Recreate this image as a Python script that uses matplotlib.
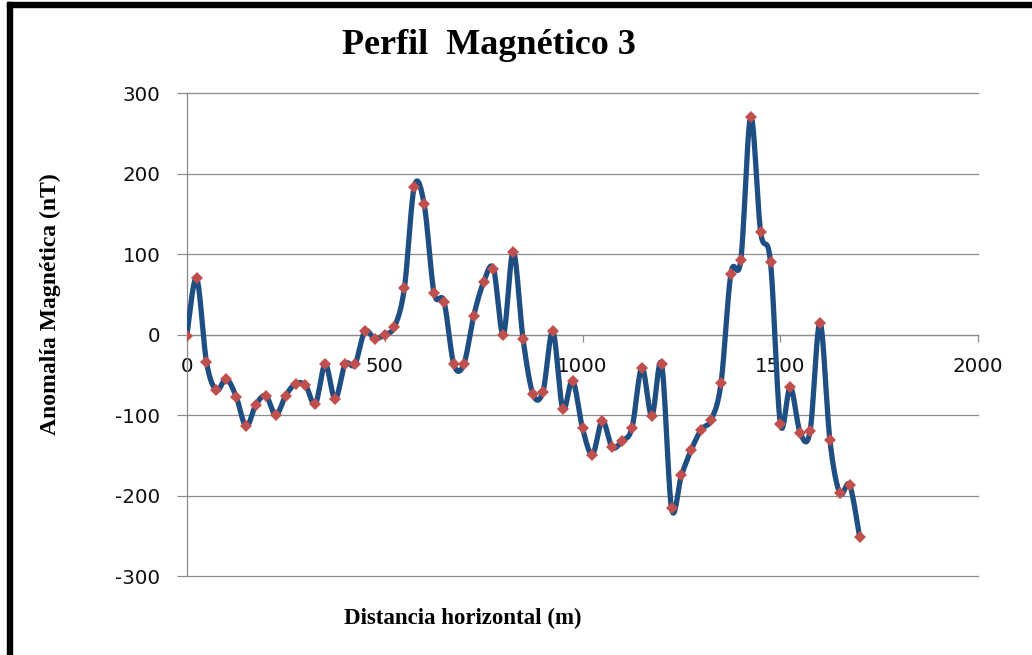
import numpy as np
import matplotlib
matplotlib.use("Agg")
import matplotlib.pyplot as plt
from matplotlib.patches import Rectangle

# Survey stations along the profile (m) and measured anomaly (nT)
distance_m = list(range(0, 1701, 25))
anomaly_nT = [
    -2, 70, -34, -69, -55, -77, -114, -87, -76, -100,
    -76, -61, -63, -86, -37, -80, -37, -37, 4, -5,
    0, 10, 58, 184, 162, 52, 41, -37, -37, 23,
    65, 82, 0, 103, -6, -74, -71, 4, -92, -57,
    -116, -149, -107, -140, -132, -116, -41, -101, -37, -216,
    -175, -143, -118, -106, -60, 76, 93, 271, 128, 90,
    -111, -65, -122, -120, 15, -131, -197, -187, -251,
]
x_ticks = [0, 500, 1000, 1500, 2000]
y_ticks = [-300, -200, -100, 0, 100, 200, 300]

title_text = "Perfil  Magnético 3"
x_label = "Distancia horizontal (m)"
y_label = "Anomalía Magnética (nT)"


def smooth_curve(x, y, steps=24):
    """Catmull-Rom style Bezier smoothing through every point."""
    x = np.asarray(x, float)
    y = np.asarray(y, float)
    n = len(x)
    xs, ys = [x[0]], [y[0]]
    t = np.linspace(0, 1, steps + 1)[1:]
    for i in range(n - 1):
        p0 = np.array([x[max(i - 1, 0)], y[max(i - 1, 0)]])
        p1 = np.array([x[i], y[i]])
        p2 = np.array([x[i + 1], y[i + 1]])
        p3 = np.array([x[min(i + 2, n - 1)], y[min(i + 2, n - 1)]])
        c1 = p1 + (p2 - p0) / 6.0
        c2 = p2 - (p3 - p1) / 6.0
        b = ((1 - t) ** 3)[:, None] * p1 + (3 * (1 - t) ** 2 * t)[:, None] * c1 \
            + (3 * (1 - t) * t ** 2)[:, None] * c2 + (t ** 3)[:, None] * p2
        xs.extend(b[:, 0])
        ys.extend(b[:, 1])
    return np.array(xs), np.array(ys)


W, H, DPI = 1032, 655, 100
fig = plt.figure(figsize=(W / DPI, H / DPI), dpi=DPI)
fig.patch.set_facecolor("white")

# Plot area in pixels
left_px, right_px, top_px, bottom_px = 186.7, 978.3, 93.3, 576.0
ax = fig.add_axes([left_px / W, 1 - bottom_px / H,
                   (right_px - left_px) / W, (bottom_px - top_px) / H])

grid_col = "#8c8c8c"
line_col = "#1F4E82"
marker_col = "#C0504D"

sx, sy = smooth_curve(distance_m, anomaly_nT)
ax.plot(sx, sy, color=line_col, lw=3.8, solid_capstyle="round", zorder=3)
ax.plot(distance_m, anomaly_nT, linestyle="none", marker="D", markersize=6.2,
        color=marker_col, markeredgewidth=0, zorder=4)

ax.set_xlim(0, 2000)
ax.set_ylim(-300, 300)
ax.set_xticks(x_ticks)
ax.set_yticks(y_ticks)
ax.set_xticklabels([str(v) for v in x_ticks])
ax.set_yticklabels([str(v) for v in y_ticks])

ax.yaxis.grid(True, color=grid_col, lw=0.9)
for gl in ax.yaxis.get_gridlines():
    gl.set_clip_on(False)
ax.set_axisbelow(True)

for s in ("top", "right"):
    ax.spines[s].set_visible(False)
ax.spines["bottom"].set_position(("data", 0))
ax.spines["bottom"].set_color(grid_col)
ax.spines["bottom"].set_linewidth(0.9)
ax.spines["left"].set_color(grid_col)
ax.spines["left"].set_linewidth(0.9)
ax.spines["bottom"].set_zorder(1)
ax.spines["left"].set_zorder(1)

ax.tick_params(axis="y", direction="out", length=7, width=0.9, color=grid_col,
               pad=12, labelcolor="#111111", labelsize=14.3)
ax.tick_params(axis="x", direction="out", length=5, width=0.9, color=grid_col,
               pad=11, labelcolor="#111111", labelsize=14.3)
for lab in ax.get_xticklabels() + ax.get_yticklabels():
    lab.set_fontfamily("DejaVu Sans")

serif = "Liberation Serif"
fig.text(489 / W, 1 - 46 / H, title_text, ha="center", va="center",
         fontsize=26, fontweight="bold", family=serif)
fig.text(463 / W, 1 - 618 / H, x_label, ha="center", va="center",
         fontsize=16.5, fontweight="bold", family=serif)
fig.text(50 / W, 1 - 304 / H, y_label, ha="center", va="center",
         rotation=90, fontsize=17, fontweight="bold", family=serif)

# Frame edges along the left and top of the canvas
fig.patches.append(Rectangle((7.3 / W, 0), 5.0 / W, 1 - 1.7 / H,
                             transform=fig.transFigure, color="black", zorder=10))
fig.patches.append(Rectangle((7.3 / W, 1 - 7.3 / H), 1 - 7.3 / W, 5.6 / H,
                             transform=fig.transFigure, color="black", zorder=10))

fig.savefig("out.png", dpi=DPI)
